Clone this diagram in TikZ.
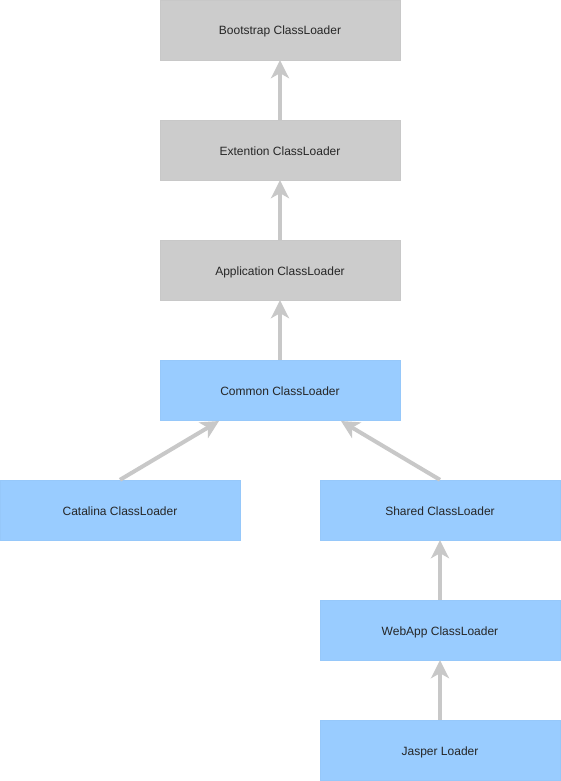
\documentclass[tikz,border=0pt]{standalone}
\usepackage{fontspec}
\setmainfont{Liberation Sans}
\usetikzlibrary{arrows.meta}
\definecolor{graybox}{HTML}{CCCCCC}
\definecolor{bluebox}{HTML}{99CCFF}
\definecolor{arrowgray}{HTML}{C8C8C8}
\begin{document}
\begin{tikzpicture}[x=1pt,y=-1pt,
  box/.style={draw=#1!90!black!20!#1, fill=#1, minimum width=240pt, minimum height=60pt, inner sep=0pt, text height=10pt, text depth=0pt, font=\fontsize{12}{14}\selectfont, text=black!85},
  gbox/.style={box=graybox},
  bbox/.style={box=bluebox},
  parent/.style={draw=arrowgray, line width=4pt, -{Stealth[length=18pt,width=18pt,inset=5pt]}}]
\useasboundingbox (0,0) rectangle (561,781);
\node[gbox] (boot) at (280,30) {Bootstrap ClassLoader};
\node[gbox] (ext) at (280,150) {Extention ClassLoader};
\node[gbox] (app) at (280,270) {Application ClassLoader};
\node[bbox] (common) at (280,390) {Common ClassLoader};
\node[bbox] (cat) at (120,510) {Catalina ClassLoader};
\node[bbox] (shared) at (440,510) {Shared ClassLoader};
\node[bbox] (web) at (440,630) {WebApp ClassLoader};
\node[bbox] (jasper) at (440,750) {Jasper Loader};
\coordinate (commonL) at (219,421);
\coordinate (commonR) at (341,421);
\draw[parent] (ext.north) -- (boot.south);
\draw[parent] (app.north) -- (ext.south);
\draw[parent] (common.north) -- (app.south);
\draw[parent] (cat.north) -- (commonL);
\draw[parent] (shared.north) -- (commonR);
\draw[parent] (web.north) -- (shared.south);
\draw[parent] (jasper.north) -- (web.south);
\end{tikzpicture}
\end{document}
